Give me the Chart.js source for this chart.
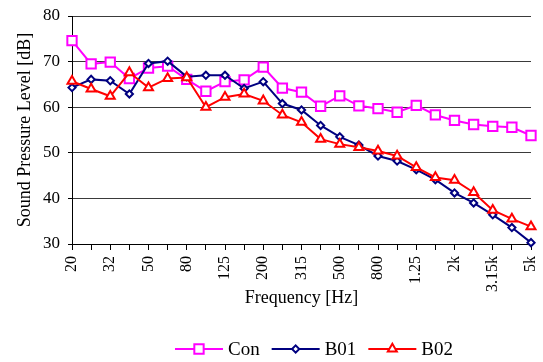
<!DOCTYPE html>
<html><head><meta charset="utf-8">
<script src="https://cdn.jsdelivr.net/npm/chart.js@4/dist/chart.umd.min.js"></script>
<style>html,body{margin:0;padding:0;background:#fff}#wrap{width:543px;height:362px}</style>
</head><body><div id="wrap"><canvas id="c" width="543" height="362"></canvas></div>
<script>
const categories = ['20','25','31.5','40','50','63','80','100','125','160','200','250','315','400','500','630','800','1k','1.25k','1.6k','2k','2.5k','3.15k','4k','5k'];
const tickLabels = ['20','','32','','50','','80','','125','','200','','315','','500','','800','','1.25','','2k','','3.15k','','5k'];
const conValues = [74.6, 69.5, 69.9, 66.3, 68.6, 69.0, 66.1, 63.5, 65.6, 66.0, 68.8, 64.2, 63.3, 60.2, 62.5, 60.3, 59.7, 58.9, 60.4, 58.3, 57.1, 56.2, 55.8, 55.6, 53.8];
const b01Values = [64.3, 66.1, 65.8, 62.9, 69.6, 70.1, 66.7, 67.0, 67.0, 64.1, 65.6, 60.8, 59.4, 56.0, 53.5, 51.7, 49.3, 48.2, 46.3, 44.1, 41.2, 39.0, 36.4, 33.6, 30.3];
const b02Values = [65.7, 64.0, 62.4, 67.6, 64.3, 66.3, 66.5, 60.0, 62.2, 62.9, 61.4, 58.3, 56.7, 53.0, 51.9, 51.2, 50.4, 49.3, 46.8, 44.6, 44.0, 41.3, 37.4, 35.5, 33.8];
const seriesNames = ['Con', 'B01', 'B02'];
const yMin = 30, yMax = 80, yStep = 10;
const xTitle = 'Frequency [Hz]';
const yTitle = 'Sound Pressure Level [dB]';

const FONT = '"Liberation Serif", "Times New Roman", serif';

function drawMarker(ctx, style, x, y, r, color) {
  ctx.save();
  ctx.beginPath();
  if (style === 'rect') {
    const s = r * Math.SQRT1_2;
    ctx.rect(x - s, y - s, 2 * s, 2 * s);
  } else if (style === 'rectRot') {
    ctx.moveTo(x, y - r); ctx.lineTo(x + r, y); ctx.lineTo(x, y + r); ctx.lineTo(x - r, y); ctx.closePath();
  } else if (style === 'triangle') {
    let a = 0;
    ctx.moveTo(x + Math.sin(a) * r, y - Math.cos(a) * r);
    a += 2 * Math.PI / 3; ctx.lineTo(x + Math.sin(a) * r, y - Math.cos(a) * r);
    a += 2 * Math.PI / 3; ctx.lineTo(x + Math.sin(a) * r, y - Math.cos(a) * r);
    ctx.closePath();
  }
  ctx.fillStyle = '#fff'; ctx.fill();
  ctx.strokeStyle = color; ctx.lineWidth = 2; ctx.stroke();
  ctx.restore();
}

const legendPlugin = {
  id: 'customLegend',
  afterDraw(chart) {
    const ctx = chart.ctx;
    ctx.save();
    ctx.font = '19px ' + FONT;
    const lineLen = 48, gapText = 5, gapItem = 12;
    const items = chart.data.datasets.map(ds => ({ ds, w: ctx.measureText(ds.label).width }));
    const total = items.reduce((s, it) => s + lineLen + gapText + it.w, 0) + gapItem * (items.length - 1);
    let x = 314 - total / 2;
    const y = 349;
    items.forEach(it => {
      ctx.strokeStyle = it.ds.borderColor; ctx.lineWidth = 2;
      ctx.beginPath(); ctx.moveTo(x, y); ctx.lineTo(x + lineLen, y); ctx.stroke();
      drawMarker(ctx, it.ds.pointStyle, x + lineLen / 2, y, it.ds.pointRadius, it.ds.borderColor);
      ctx.fillStyle = '#000'; ctx.textBaseline = 'middle'; ctx.textAlign = 'left';
      ctx.fillText(it.ds.label, x + lineLen + gapText, y + 1);
      x += lineLen + gapText + it.w + gapItem;
    });
    ctx.restore();
  }
};

function mk(label, data, color, style, radius, order) {
  return {
    label, data, borderColor: color, backgroundColor: '#fff',
    borderWidth: 2, pointStyle: style, pointRadius: radius, pointHoverRadius: radius,
    pointBorderWidth: 2, pointBackgroundColor: '#fff', pointBorderColor: color,
    tension: 0, fill: false, clip: false, order
  };
}

new Chart(document.getElementById('c'), {
  type: 'line',
  data: {
    labels: categories,
    datasets: [
      mk(seriesNames[0], conValues, '#FF00FF', 'rect', 6.6, 3),
      mk(seriesNames[1], b01Values, '#000080', 'rectRot', 3.6, 2),
      mk(seriesNames[2], b02Values, '#FF0000', 'triangle', 5.2, 1)
    ]
  },
  options: {
    responsive: false,
    devicePixelRatio: 1,
    animation: false,
    events: [],
    layout: { padding: { left: 0, right: 12, top: 16, bottom: 40 } },
    plugins: { legend: { display: false }, tooltip: { enabled: false } },
    scales: {
      x: {
        type: 'category',
        offset: false,
        afterFit(scale) { scale.height = 78; scale.paddingLeft = 0; scale.paddingRight = 0; },
        grid: { display: true, drawOnChartArea: false, drawTicks: true, tickLength: 6, color: '#000', offset: false },
        border: { display: true, color: '#000', width: 1 },
        ticks: {
          autoSkip: false, maxRotation: 90, minRotation: 90, padding: 6,
          color: '#000', font: { family: FONT, size: 16 },
          callback: (v, i) => tickLabels[i]
        },
        title: { display: true, text: xTitle, color: '#000', font: { family: FONT, size: 18 }, padding: { top: 0, bottom: 13 } }
      },
      y: {
        min: yMin, max: yMax,
        afterFit(scale) { scale.width = 72; scale.paddingTop = 0; scale.paddingBottom = 0; },
        grid: { display: true, color: '#3a3a3a', lineWidth: 1, drawTicks: true, tickLength: 4, tickColor: '#000' },
        border: { display: true, color: '#000', width: 1 },
        ticks: { stepSize: yStep, padding: 8, color: '#000', font: { family: FONT, size: 17 } },
        title: { display: true, text: yTitle, color: '#000', font: { family: FONT, size: 18 }, padding: { top: 14, bottom: 0 } }
      }
    }
  },
  plugins: [legendPlugin]
});
</script>
</body></html>
